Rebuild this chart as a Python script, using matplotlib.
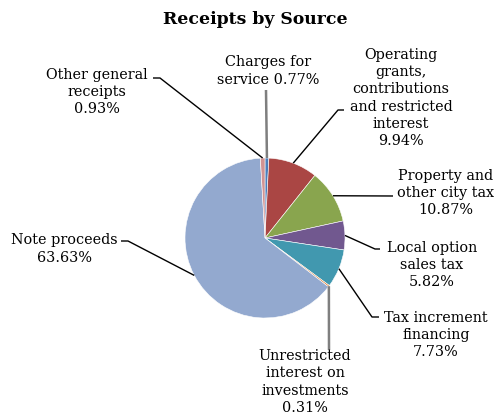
import matplotlib
matplotlib.use("Agg")
import matplotlib.pyplot as plt
import numpy as np

# Receipts by source (percent of total), clockwise from 12 o'clock
labels = ["Charges for\nservice 0.77%",
          "Operating\ngrants,\ncontributions\nand restricted\ninterest\n9.94%",
          "Property and\nother city tax\n10.87%",
          "Local option\nsales tax\n5.82%",
          "Tax increment\nfinancing\n7.73%",
          "Unrestricted\ninterest on\ninvestments\n0.31%",
          "Note proceeds\n63.63%",
          "Other general\nreceipts\n0.93%"]
shares = [0.77, 9.94, 10.87, 5.82, 7.73, 0.31, 63.63, 0.93]
colors = ["#4A7EBB", "#AA4644", "#89A54E", "#71588F",
          "#4198AF", "#DB843D", "#93A9CF", "#D19392"]

W, H = 500, 418
fig = plt.figure(figsize=(5.0, 4.18), dpi=100)
ax = fig.add_axes([0, 0, 1, 1])

cx, cy, r = 265, H - 238, 80
wedges, _ = ax.pie(shares, colors=colors, startangle=90, counterclock=False,
                   center=(cx, cy), radius=r,
                   wedgeprops=dict(edgecolor="white", linewidth=0.4))
ax.set_xlim(0, W)
ax.set_ylim(0, H)
ax.set_aspect("equal")
ax.axis("off")

# label block centres (pixel coords, y from top) and leader bends
label_pos = [(268, 71), (401, 98), (446, 193), (432, 265),
             (436, 335), (305, 382), (64, 249), (97, 92)]
leader_pts = [[(266, 90)],
              [(338, 110), (344, 110)],
              [(393, 196)],
              [(375, 249), (380, 249)],
              [(372, 317), (379, 317)],
              [(329, 350)],
              [(128, 241), (121, 241)],
              [(160, 78), (153, 78)]]
leader_col = ["#7F7F7F", "black", "black", "black", "black", "#7F7F7F", "black", "black"]
leader_lw = [1.8, 1.0, 1.0, 1.0, 1.0, 1.8, 1.0, 1.0]

font = dict(family="DejaVu Serif", fontsize=10.4)
for w, lab, (lx, ly), pts, lc, lw in zip(wedges, labels, label_pos, leader_pts, leader_col, leader_lw):
    ang = np.deg2rad((w.theta1 + w.theta2) / 2)
    ax_, ay_ = cx + r * np.cos(ang), cy + r * np.sin(ang)
    xs = [ax_] + [p[0] for p in pts]
    ys = [ay_] + [H - p[1] for p in pts]
    ax.plot(xs, ys, color=lc, lw=lw, solid_capstyle="butt")
    ax.text(lx, H - ly, lab, ha="center", va="center", linespacing=1.29, **font)

ax.text(W / 2 + 5, H - 19, "Receipts by Source", ha="center", va="center",
        family="DejaVu Serif", fontsize=12.4, fontweight="bold")

fig.savefig("out.png", dpi=100)
